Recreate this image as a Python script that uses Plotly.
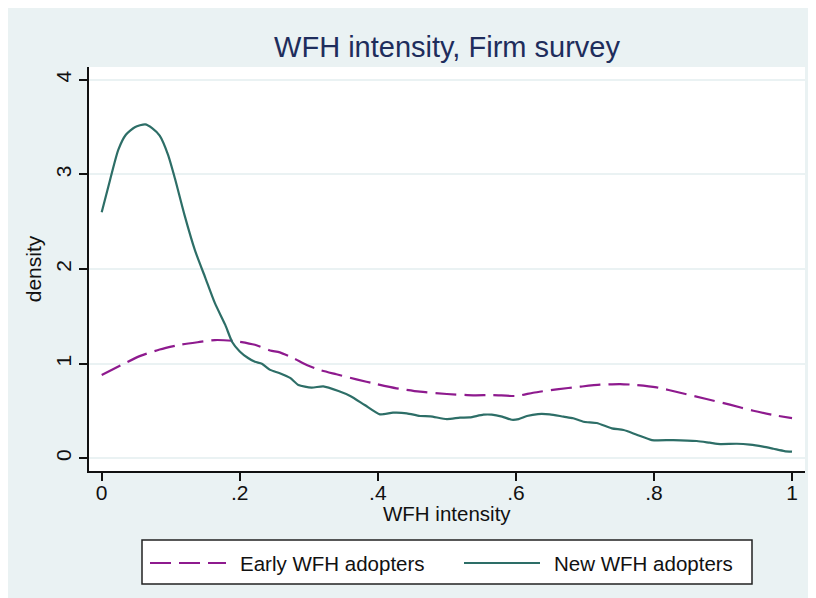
import plotly.graph_objects as go

# ---- data ----
early_x = [0.0, 0.027, 0.055, 0.084, 0.113, 0.142, 0.164, 0.193, 0.222, 0.244, 0.258, 0.278,
           0.297, 0.316, 0.34, 0.369, 0.398, 0.427, 0.461, 0.50, 0.538, 0.567, 0.601, 0.625,
           0.659, 0.693, 0.722, 0.751, 0.775, 0.804, 0.838, 0.876, 0.91, 0.944, 0.975, 1.0]
early_y = [0.88, 0.98, 1.08, 1.15, 1.20, 1.23, 1.25, 1.24, 1.20, 1.14, 1.12, 1.057,
           0.986, 0.933, 0.888, 0.835, 0.785, 0.74, 0.704, 0.68, 0.666, 0.669, 0.659, 0.693,
           0.729, 0.757, 0.778, 0.785, 0.775, 0.75, 0.693, 0.627, 0.567, 0.503, 0.455, 0.425]

new_x = [0.0, 0.012, 0.024, 0.035, 0.048, 0.063, 0.073, 0.084, 0.096, 0.106, 0.12, 0.135,
         0.15, 0.164, 0.179, 0.189, 0.2, 0.212, 0.222, 0.232, 0.244, 0.258, 0.273, 0.285,
         0.304, 0.321, 0.343, 0.36, 0.381, 0.403, 0.422, 0.442, 0.461, 0.476, 0.50, 0.519,
         0.533, 0.553, 0.565, 0.58, 0.594, 0.604, 0.616, 0.632, 0.649, 0.669, 0.683, 0.698,
         0.717, 0.739, 0.756, 0.775, 0.797, 0.828, 0.862, 0.881, 0.896, 0.92, 0.939, 0.958,
         0.973, 0.989, 1.0]
new_y = [2.60, 2.94, 3.26, 3.42, 3.50, 3.53, 3.49, 3.41, 3.21, 2.96, 2.57, 2.20,
         1.91, 1.64, 1.41, 1.23, 1.13, 1.06, 1.02, 1.00, 0.935, 0.90, 0.85, 0.775,
         0.747, 0.761, 0.711, 0.659, 0.563, 0.465, 0.482, 0.476, 0.447, 0.444, 0.415, 0.43,
         0.433, 0.461, 0.461, 0.44, 0.408, 0.415, 0.447, 0.468, 0.465, 0.44, 0.423, 0.387,
         0.373, 0.317, 0.299, 0.25, 0.193, 0.193, 0.183, 0.165, 0.151, 0.154, 0.144, 0.123,
         0.101, 0.077, 0.07]

series_names = ["Early WFH adopters", "New WFH adopters"]
x_tickvals = [0, 0.2, 0.4, 0.6, 0.8, 1.0]
x_ticktext = ["0", ".2", ".4", ".6", ".8", "1"]
y_tickvals = [0, 1, 2, 3, 4]
y_ticktext = ["0", "1", "2", "3", "4"]

# ---- style ----
OFF = 8  # page body margin
W, H = 816 - OFF, 598 - OFF
ML, MR, MT, MB = 89 - OFF, W - (805 - OFF), 67 - OFF, H - (471 - OFF)
PW, PH = W - ML - MR, H - MT - MB
BG = "#EAF2F3"
PURPLE = "#8E1A8E"
TEAL = "#2D6E67"
NAVY = "#1E2D5C"
FONT = "Liberation Sans, Arial, sans-serif"
DASH = "21px,8px"


def px(xp):
    return (xp - OFF - ML) / PW


def py(yp):
    return (H - MB - (yp - OFF)) / PH


fig = go.Figure()
fig.add_trace(go.Scatter(x=early_x, y=early_y, mode="lines", name=series_names[0],
                         line=dict(color=PURPLE, width=2.2, dash=DASH, shape="spline", smoothing=0.6)))
fig.add_trace(go.Scatter(x=new_x, y=new_y, mode="lines", name=series_names[1],
                         line=dict(color=TEAL, width=2.2, shape="spline", smoothing=0.6)))

shapes = [
    # legend box
    dict(type="rect", xref="paper", yref="paper", x0=px(142), x1=px(752), y0=py(584), y1=py(540),
         fillcolor="white", line=dict(color="#222222", width=1.5)),
    dict(type="line", xref="paper", yref="paper", x0=px(150), x1=px(226), y0=py(563), y1=py(563),
         line=dict(color=PURPLE, width=2.2, dash=DASH)),
    dict(type="line", xref="paper", yref="paper", x0=px(464), x1=px(540), y0=py(563), y1=py(563),
         line=dict(color=TEAL, width=2.2)),
]

annotations = [
    dict(text=series_names[0], xref="paper", yref="paper", x=px(238), y=py(563),
         xanchor="left", yanchor="middle", showarrow=False, font=dict(size=20.5, color="#111111")),
    dict(text=series_names[1], xref="paper", yref="paper", x=px(552), y=py(563),
         xanchor="left", yanchor="middle", showarrow=False, font=dict(size=20.5, color="#111111")),
    # x-axis title
    dict(text="WFH intensity", xref="paper", yref="paper", x=0.5, y=py(513),
         xanchor="center", yanchor="middle", showarrow=False, font=dict(size=20.5, color="#111111")),
]

fig.update_layout(
    width=W, height=H,
    margin=dict(l=ML, r=MR, t=MT, b=MB),
    paper_bgcolor=BG, plot_bgcolor="white",
    font=dict(family=FONT, size=20, color="#111111"),
    showlegend=False,
    title=dict(text="WFH intensity, Firm survey", x=0.5, xref="paper", xanchor="center",
               y=1 - (47 - OFF) / H, yref="container", yanchor="middle",
               font=dict(size=29, color=NAVY, family=FONT)),
    shapes=shapes, annotations=annotations,
)

fig.update_xaxes(range=[-0.0184, 1.0188], tickvals=x_tickvals, ticktext=x_ticktext,
                 showgrid=False, zeroline=False, showline=True, linecolor="#111111", linewidth=1.5,
                 ticks="outside", ticklen=8, tickwidth=1.5, tickcolor="#111111",
                 ticklabelstandoff=-6, tickfont=dict(size=21))
fig.update_yaxes(range=[-0.134, 4.136], tickvals=y_tickvals, ticktext=y_ticktext, tickangle=-90,
                 showgrid=True, gridcolor=BG, gridwidth=1.5, zeroline=False,
                 showline=True, linecolor="#111111", linewidth=1.5,
                 ticks="outside", ticklen=8, tickwidth=1.5, tickcolor="#111111",
                 tickfont=dict(size=21), title=dict(text="density", font=dict(size=21), standoff=4))

fig.write_html("out.html")
